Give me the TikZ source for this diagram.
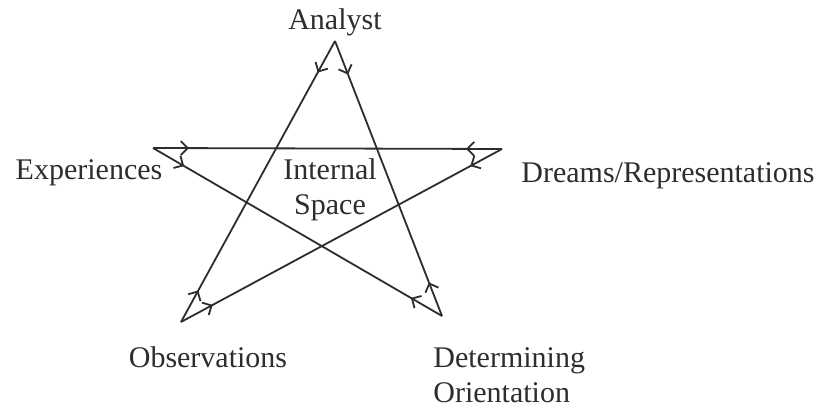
\documentclass[tikz,border=0pt]{standalone}
\usepackage{fontspec}
\setmainfont{Liberation Serif}
\usepackage{tikz}
\usetikzlibrary{arrows.meta,decorations.markings}
\definecolor{ink}{RGB}{45,45,45}

\begin{document}
\begin{tikzpicture}[x=0.5pt,y=-0.5pt,font=\fontsize{15}{17.5}\selectfont,
    lbl/.style={text=ink,inner sep=0pt,anchor=base},
    edge/.style={draw=ink,line width=0.9pt,postaction={decorate,decoration={markings,
      mark=at position 18pt with {\arrow{Straight Barb[length=3.5pt,width=7pt]}},
      mark=at position -18pt with {\arrowreversed{Straight Barb[length=3.5pt,width=7pt]}}}}}]
  \useasboundingbox (0,0) rectangle (820,410);
  % star points
  \coordinate (an) at (335,41);
  \coordinate (ex) at (153,148);
  \coordinate (dr) at (502,149);
  \coordinate (ob) at (181,322);
  \coordinate (de) at (442,316);
  % labels
  \node[lbl] (anl) at (335,30) {Analyst};
  \node[lbl] (exl) at (89,180) {Experiences};
  \node[lbl] (drl) at (668,183) {Dreams/Representations};
  \node[lbl] (obl) at (208,368) {Observations};
  \node[lbl,anchor=base west,align=left] (del) at (433,403) {Determining\\Orientation};
  \node[lbl,align=center] (isp) at (330,215) {Internal\\Space};
  % star
  \foreach \a/\b in {an/ob,an/de,ex/dr,ex/de,dr/ob} \draw[edge] (\a) -- (\b);
\end{tikzpicture}
\end{document}
